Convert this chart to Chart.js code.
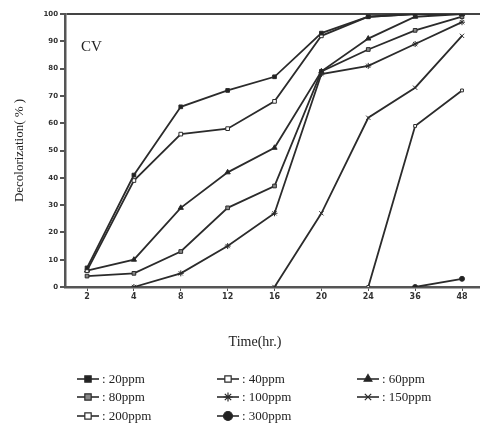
<!DOCTYPE html>
<html>
<head>
<meta charset="utf-8">
<script src="https://cdn.jsdelivr.net/npm/chart.js@4/dist/chart.umd.min.js"></script>
<style>
  html, body { margin: 0; padding: 0; background: #fff; }
  #wrap { width: 480px; height: 432px; }
</style>
</head>
<body>
<div id="wrap"><canvas id="myChart" width="480" height="432"></canvas></div>
<script>
// time points (hr.), evenly spaced on the axis
var timeLabels = ['2', '4', '8', '12', '16', '20', '24', '36', '48'];

// decolorization (%) per dye concentration
var seriesNames = ['20ppm', '40ppm', '60ppm', '80ppm', '100ppm', '150ppm', '200ppm', '300ppm'];
var ppm20  = [7, 41, 66, 72, 77, 93, 99, 100, 100];
var ppm40  = [6, 39, 56, 58, 68, 92, 99, 100, 100];
var ppm60  = [6, 10, 29, 42, 51, 79, 91, 99, 100];
var ppm80  = [4, 5, 13, 29, 37, 79, 87, 94, 99];
var ppm100 = [null, 0, 5, 15, 27, 78, 81, 89, 97];
var ppm150 = [null, null, null, null, 0, 27, 62, 73, 92];
var ppm200 = [null, null, null, null, null, null, 0, 59, 72];
var ppm300 = [null, null, null, null, null, null, null, 0, 3];

var yTicks = [0, 10, 20, 30, 40, 50, 60, 70, 80, 90, 100];

var allSeries = [ppm20, ppm40, ppm60, ppm80, ppm100, ppm150, ppm200, ppm300];
var markers = [
    { style: 'rect', fill: '#222', r: 2.6 },
    { style: 'rect', fill: '#fff', r: 2.6 },
    { style: 'triangle', fill: '#222', r: 3 },
    { style: 'rect', fill: '#888', r: 2.6 },
    { style: 'star', fill: '#222', r: 3 },
    { style: 'crossRot', fill: '#222', r: 3 },
    { style: 'rect', fill: '#fff', r: 2 },
    { style: 'circle', fill: '#222', r: 2.5 }
];

var lineColor = '#2b2b2b';
var serif = '"Liberation Serif", "DejaVu Serif", serif';

var datasets = allSeries.map(function (vals, i) {
    return {
        label: seriesNames[i],
        data: vals.map(function (v, k) { return { x: k, y: v }; }),
        borderColor: lineColor,
        borderWidth: 1.8,
        pointStyle: markers[i].style,
        pointRadius: markers[i].r,
        pointBackgroundColor: markers[i].fill,
        pointBorderColor: lineColor,
        pointBorderWidth: 1,
        tension: 0,
        fill: false
    };
});

// CV tag, x title and the 3-column legend under the chart
var legendX = [77, 217, 357];
var legendY = [379, 397, 416];
var overlayText = {
    id: 'overlayText',
    afterDraw: function (chart) {
        var c = chart.ctx;
        c.save();
        c.fillStyle = '#222';
        c.textBaseline = 'middle';
        c.font = '15px ' + serif;
        c.textAlign = 'left';
        c.fillText('CV', 81, 47);
        c.font = '14px ' + serif;
        c.textAlign = 'center';
        c.fillText('Time(hr.)', 255, 342);

        c.textAlign = 'left';
        c.font = '13px ' + serif;
        chart.data.datasets.forEach(function (ds, i) {
            var x = legendX[i % 3];
            var y = legendY[Math.floor(i / 3)];
            c.strokeStyle = lineColor;
            c.lineWidth = 1.6;
            c.beginPath();
            c.moveTo(x, y);
            c.lineTo(x + 22, y);
            c.stroke();
            c.fillStyle = ds.pointBackgroundColor;
            c.lineWidth = 1.2;
            Chart.helpers.drawPoint(c, {
                pointStyle: ds.pointStyle,
                radius: 4.5,
                borderWidth: 1.2,
                rotation: 0
            }, x + 11, y);
            c.fillStyle = '#222';
            c.fillText(': ' + ds.label, x + 25, y + 1);
        });
        c.restore();
    }
};

var ctx = document.getElementById('myChart').getContext('2d');
var myChart = new Chart(ctx, {
    type: 'line',
    data: { datasets: datasets },
    plugins: [overlayText],
    options: {
        responsive: false,
        animation: false,
        layout: {
            autoPadding: false,
            padding: { left: 12, right: 0, top: 14, bottom: 125 }
        },
        plugins: {
            legend: { display: false },
            tooltip: { enabled: false }
        },
        scales: {
            x: {
                type: 'linear',
                min: -0.47,
                max: 8.384,
                afterBuildTicks: function (scale) {
                    scale.ticks = timeLabels.map(function (t, i) { return { value: i }; });
                },
                afterFit: function (scale) {
                    scale.height = 20;
                    scale.paddingLeft = 0;
                    scale.paddingRight = 0;
                },
                ticks: {
                    autoSkip: false,
                    maxRotation: 0,
                    padding: 1,
                    color: '#333',
                    font: { family: 'DejaVu Sans', size: 8, weight: 'bold' },
                    callback: function (v) { return timeLabels[v]; }
                },
                grid: {
                    drawOnChartArea: false,
                    tickLength: 4,
                    tickColor: '#555'
                },
                border: { color: '#555', width: 2.5 }
            },
            y: {
                min: 0,
                max: 100,
                afterBuildTicks: function (scale) {
                    scale.ticks = yTicks.map(function (v) { return { value: v }; });
                },
                afterFit: function (scale) {
                    scale.width = 53;
                    scale.paddingTop = 0;
                    scale.paddingBottom = 0;
                },
                title: {
                    display: true,
                    text: 'Decolorization( % )',
                    color: '#222',
                    font: { family: serif, size: 13 },
                    padding: { top: 0, bottom: 0 }
                },
                ticks: {
                    padding: 2,
                    color: '#333',
                    font: { family: 'DejaVu Sans', size: 7, weight: 'bold' }
                },
                grid: {
                    tickLength: 5,
                    tickColor: '#555',
                    lineWidth: 2,
                    color: function (c) {
                        return c.tick && c.tick.value === 100 ? '#444' : 'rgba(0,0,0,0)';
                    }
                },
                border: { color: '#555', width: 2.5 }
            }
        }
    }
});
</script>
</body>
</html>
